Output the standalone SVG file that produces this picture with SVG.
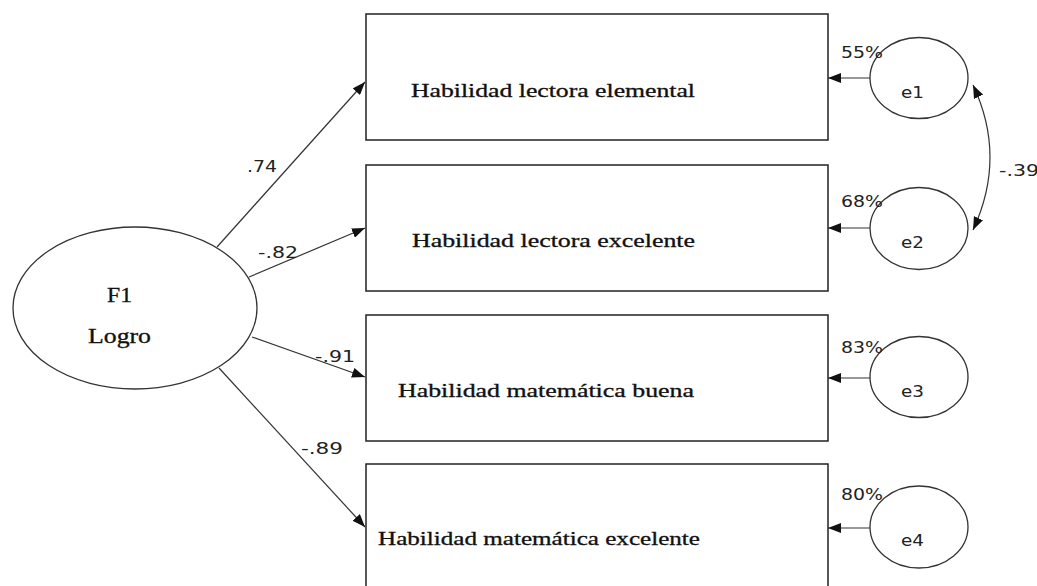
<svg xmlns="http://www.w3.org/2000/svg" width="1037" height="586" viewBox="0 0 1037 586">
<style>
.box{fill:#fff;stroke:#222;stroke-width:1.5}
.ell{fill:#fff;stroke:#333;stroke-width:1.3}
.con{fill:none;stroke:#333;stroke-width:1.2}
.lbl{font-family:"Liberation Serif",serif;font-size:18px;fill:#111;stroke:#111;stroke-width:0.3}
.num{font-family:"DejaVu Sans","Liberation Sans",sans-serif;font-size:15px;fill:#222}
.f1{font-family:"Liberation Serif",serif;font-size:20px;fill:#111;stroke:#111;stroke-width:0.3}
</style>
<defs>
<marker id="ah" viewBox="0 0 13 10" refX="13" refY="5" markerWidth="13" markerHeight="10" markerUnits="userSpaceOnUse" orient="auto-start-reverse">
<path d="M0,0 L13,5 L0,10 z" fill="#111"/>
</marker>
</defs>
<rect width="1037" height="586" fill="#fff"/>
<g id="connectors">
<line class="con" x1="217" y1="247" x2="365" y2="82" marker-end="url(#ah)"/>
<line class="con" x1="249" y1="277" x2="365" y2="228" marker-end="url(#ah)"/>
<line class="con" x1="252" y1="337" x2="365" y2="377" marker-end="url(#ah)"/>
<line class="con" x1="219" y1="368" x2="365" y2="527" marker-end="url(#ah)"/>
<line class="con" x1="870" y1="78" x2="828" y2="78" marker-end="url(#ah)"/>
<line class="con" x1="870" y1="228" x2="828" y2="228" marker-end="url(#ah)"/>
<line class="con" x1="870" y1="378" x2="828" y2="378" marker-end="url(#ah)"/>
<line class="con" x1="870" y1="528" x2="828" y2="528" marker-end="url(#ah)"/>
<path class="con" d="M973,85 Q1007,157 973,230" marker-start="url(#ah)" marker-end="url(#ah)"/>
<text class="num" x="247" y="172" textLength="30" lengthAdjust="spacingAndGlyphs">.74</text>
<text class="num" x="258" y="258" textLength="40" lengthAdjust="spacingAndGlyphs">-.82</text>
<text class="num" x="315" y="362" textLength="40" lengthAdjust="spacingAndGlyphs">-.91</text>
<text class="num" x="301" y="454" textLength="42" lengthAdjust="spacingAndGlyphs">-.89</text>
<text class="num" x="999" y="176" textLength="40" lengthAdjust="spacingAndGlyphs">-.39</text>
</g>
<g id="F1">
<ellipse class="ell" cx="135" cy="308" rx="122" ry="81"/>
<text class="f1" x="107" y="302" textLength="25" lengthAdjust="spacingAndGlyphs">F1</text>
<text class="f1" x="88" y="343" textLength="63" lengthAdjust="spacingAndGlyphs">Logro</text>
</g>
<g id="box1">
<rect class="box" x="366" y="14" width="462" height="126"/>
<text class="lbl" x="411" y="97" textLength="284" lengthAdjust="spacingAndGlyphs">Habilidad lectora elemental</text>
</g>
<g id="box2">
<rect class="box" x="366" y="165" width="462" height="126"/>
<text class="lbl" x="412" y="247" textLength="283" lengthAdjust="spacingAndGlyphs">Habilidad lectora excelente</text>
</g>
<g id="box3">
<rect class="box" x="366" y="315" width="462" height="126"/>
<text class="lbl" x="398" y="397" textLength="296" lengthAdjust="spacingAndGlyphs">Habilidad matemática buena</text>
</g>
<g id="box4">
<rect class="box" x="366" y="464" width="462" height="130"/>
<text class="lbl" x="378" y="545" textLength="322" lengthAdjust="spacingAndGlyphs">Habilidad matemática excelente</text>
</g>
<g id="e1">
<ellipse class="ell" cx="919" cy="78" rx="49" ry="40.5"/>
<text class="num" x="901" y="98" textLength="23" lengthAdjust="spacingAndGlyphs">e1</text>
<text class="num" x="841" y="58" textLength="42" lengthAdjust="spacingAndGlyphs">55%</text>
</g>
<g id="e2">
<ellipse class="ell" cx="919" cy="228.5" rx="49" ry="41"/>
<text class="num" x="901" y="248" textLength="23" lengthAdjust="spacingAndGlyphs">e2</text>
<text class="num" x="841" y="207" textLength="42" lengthAdjust="spacingAndGlyphs">68%</text>
</g>
<g id="e3">
<ellipse class="ell" cx="919" cy="377" rx="49" ry="40.5"/>
<text class="num" x="901" y="397" textLength="23" lengthAdjust="spacingAndGlyphs">e3</text>
<text class="num" x="841" y="353" textLength="42" lengthAdjust="spacingAndGlyphs">83%</text>
</g>
<g id="e4">
<ellipse class="ell" cx="919" cy="527" rx="49" ry="41"/>
<text class="num" x="901" y="546" textLength="23" lengthAdjust="spacingAndGlyphs">e4</text>
<text class="num" x="841" y="500" textLength="42" lengthAdjust="spacingAndGlyphs">80%</text>
</g>
</svg>
